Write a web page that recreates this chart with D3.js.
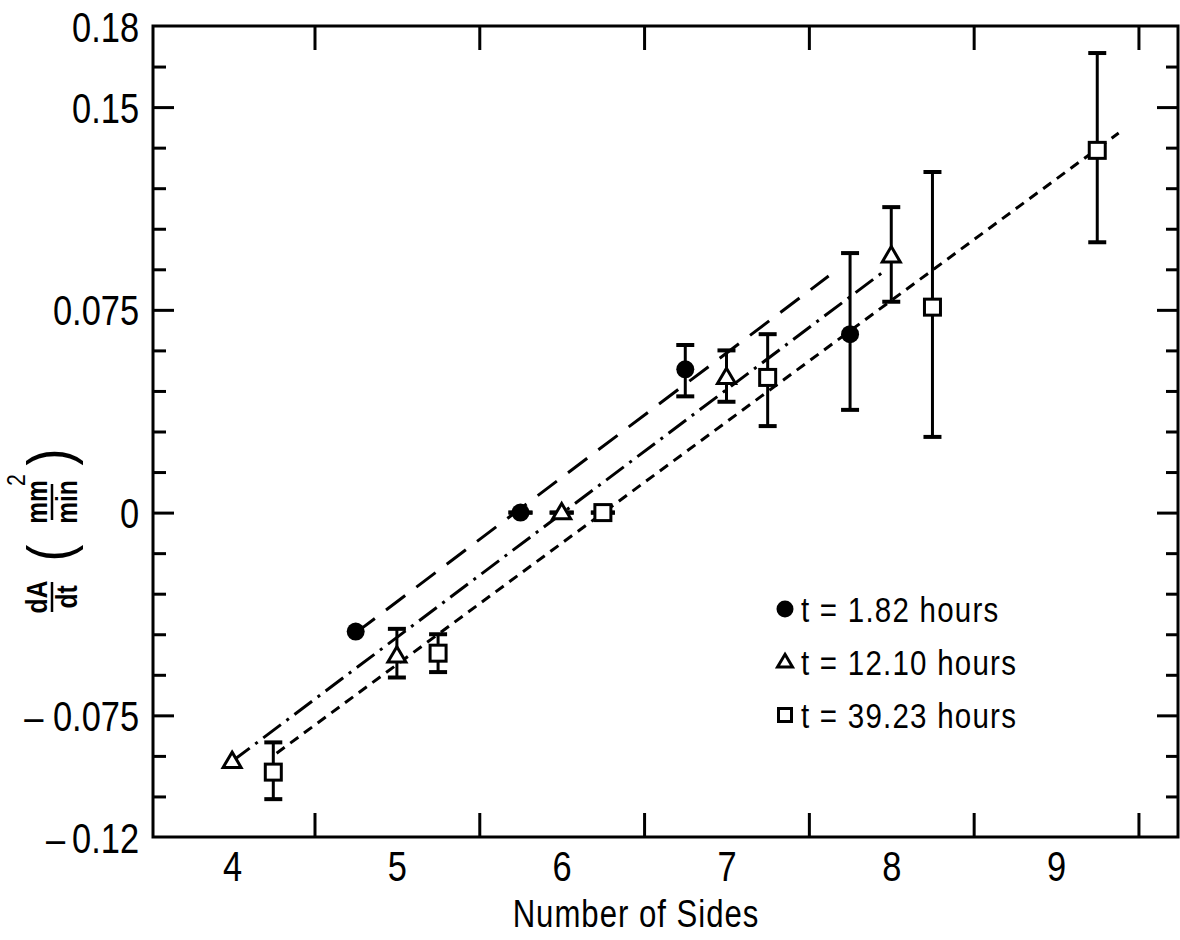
<!DOCTYPE html>
<html>
<head>
<meta charset="utf-8">
<script src="https://cdn.jsdelivr.net/npm/d3@7"></script>
<style>
  body { margin: 0; background: #fff; }
  svg text { font-family: "Liberation Sans", Arial, sans-serif; fill: #000; }
</style>
</head>
<body>
<div class="chart"></div>
<script>
const width = 1180;
const height = 940;
const plotLeft = 153, plotRight = 1178, plotTop = 26, plotBottom = 837;
const squeeze = 0.82; // lettering in the figure is condensed

// series (x already carries the small offset used in the figure)
const seriesNames = ["t = 1.82 hours", "t = 12.10 hours", "t = 39.23 hours"];

const circleX = [4.75, 5.75, 6.75, 7.75];
const circleY = [-0.044, 0, 0.053, 0.066];
const circleLo = [null, 0, 0.043, 0.038];
const circleHi = [null, 0, 0.062, 0.096];

const triangleX = [4, 5, 6, 7, 8];
const triangleY = [-0.092, -0.053, 0, 0.05, 0.095];
const triangleLo = [null, -0.061, 0, 0.041, 0.078];
const triangleHi = [null, -0.043, 0, 0.06, 0.113];

const squareX = [4.25, 5.25, 6.25, 7.25, 8.25, 9.25];
const squareY = [-0.096, -0.052, 0, 0.05, 0.076, 0.134];
const squareLo = [-0.106, -0.059, 0, 0.032, 0.028, 0.1];
const squareHi = [-0.085, -0.045, 0, 0.066, 0.126, 0.17];

// fitted lines, end points
const fitX = [[4.75, 7.62], [4.0, 7.95], [4.27, 9.38]];
const fitY = [[-0.0445, 0.0875], [-0.092, 0.089], [-0.089, 0.1404]];

// ticks
const xLabelTicks = [4, 5, 6, 7, 8, 9];
const xMarkTicks = [4.5, 5.5, 6.5, 7.5, 8.5, 9.5];
const yLabelValues = [-0.12, -0.075, 0, 0.075, 0.15, 0.18];
const yLabelText = ["\u2013\u20090.12", "\u2013 0.075", "0", "0.075", "0.15", "0.18"];
const yMajorTicks = [-0.075, 0, 0.075, 0.15];
const yMinorTicks = [-0.105, -0.09, -0.06, -0.045, -0.03, -0.015, 0.015, 0.03, 0.045, 0.06,
                     0.09, 0.105, 0.12, 0.135, 0.165];

const series = [
  { name: seriesNames[0], shape: "circle", x: circleX, y: circleY, lo: circleLo, hi: circleHi, dash: "24,14" },
  { name: seriesNames[1], shape: "triangle", x: triangleX, y: triangleY, lo: triangleLo, hi: triangleHi, dash: "22,7,3,7" },
  { name: seriesNames[2], shape: "square", x: squareX, y: squareY, lo: squareLo, hi: squareHi, dash: "10,7" }
];

const x = d3.scaleLinear().domain([3.52, 9.74]).range([plotLeft, plotRight]);
const y = d3.scaleLinear().domain([-0.12, 0.18]).range([plotBottom, plotTop]);

const svg = d3.select(".chart")
  .append("svg")
  .attr("width", width)
  .attr("height", height);

function styleAxis(g) {
  g.select(".domain").remove();
  g.selectAll("line").attr("stroke", "#000").attr("stroke-width", 3);
  g.selectAll("text")
    .attr("font-size", 42)
    .attr("font-family", null)
    .attr("transform", `scale(${squeeze},1)`);
}

// condensed text helper
function label(parent, px, py, str, size, anchor) {
  return parent.append("g")
    .attr("transform", `translate(${px},${py}) scale(${squeeze},1)`)
    .append("text")
    .attr("text-anchor", anchor || "start")
    .attr("font-size", size)
    .text(str);
}

// ticks on all four sides, pointing in
svg.append("g").attr("transform", `translate(${plotLeft},0)`)
  .call(d3.axisLeft(y).tickValues(yMajorTicks).tickSize(-21).tickFormat(""))
  .call(styleAxis);
svg.append("g").attr("transform", `translate(${plotLeft},0)`)
  .call(d3.axisLeft(y).tickValues(yMinorTicks).tickSize(-13).tickFormat(""))
  .call(styleAxis);
svg.append("g").attr("transform", `translate(${plotRight},0)`)
  .call(d3.axisRight(y).tickValues(yMajorTicks).tickSize(-21).tickFormat(""))
  .call(styleAxis);
svg.append("g").attr("transform", `translate(${plotRight},0)`)
  .call(d3.axisRight(y).tickValues(yMinorTicks).tickSize(-12).tickFormat(""))
  .call(styleAxis);
svg.append("g").attr("transform", `translate(0,${plotBottom})`)
  .call(d3.axisBottom(x).tickValues(xMarkTicks).tickSize(-24).tickFormat(""))
  .call(styleAxis);
svg.append("g").attr("transform", `translate(0,${plotTop})`)
  .call(d3.axisTop(x).tickValues(xMarkTicks).tickSize(-24).tickFormat(""))
  .call(styleAxis);

// tick labels
svg.append("g").attr("transform", `translate(${plotLeft},0)`)
  .call(d3.axisLeft(y).tickValues(yLabelValues).tickSize(0).tickPadding(17)
    .tickFormat((d, i) => yLabelText[i]))
  .call(styleAxis)
  .selectAll("text").attr("dy", "0.36em");
svg.append("g").attr("transform", `translate(0,${plotBottom})`)
  .call(d3.axisBottom(x).tickValues(xLabelTicks).tickSize(0).tickPadding(14)
    .tickFormat(d3.format("d")))
  .call(styleAxis);

// frame
svg.append("rect")
  .attr("x", plotLeft).attr("y", plotTop)
  .attr("width", plotRight - plotLeft).attr("height", plotBottom - plotTop)
  .attr("fill", "none").attr("stroke", "#000").attr("stroke-width", 3);

// axis titles
label(svg, 636, 927, "Number of Sides", 38, "middle").attr("letter-spacing", 1.2);

const yTitle = svg.append("g").attr("transform", "translate(52,0) rotate(-90)");
label(yTitle, -597, -5, "dA", 30, "middle").attr("font-weight", "bold");
yTitle.append("line").attr("x1", -612).attr("x2", -582).attr("y1", 0).attr("y2", 0)
  .attr("stroke", "#000").attr("stroke-width", 2.5);
label(yTitle, -597, 25, "dt", 30, "middle").attr("font-weight", "bold");
label(yTitle, -553, 18, "(", 62, "middle");
label(yTitle, -502, -5, "mm", 30, "middle").attr("font-weight", "bold");
label(yTitle, -480, -27, "2", 26, "middle");
yTitle.append("line").attr("x1", -520).attr("x2", -484).attr("y1", 0).attr("y2", 0)
  .attr("stroke", "#000").attr("stroke-width", 2.5);
label(yTitle, -502, 25, "min", 30, "middle").attr("font-weight", "bold");
label(yTitle, -457, 18, ")", 62, "middle");

// fitted lines
const line = d3.line().x(d => x(d[0])).y(d => y(d[1]));
series.forEach((s, i) => {
  svg.append("path")
    .datum(d3.zip(fitX[i], fitY[i]))
    .attr("d", line)
    .attr("fill", "none")
    .attr("stroke", "#000")
    .attr("stroke-width", 3)
    .attr("stroke-dasharray", s.dash);
});

// error bars
const capW = 9;
series.forEach(s => {
  const bars = s.x.map((v, i) => ({ x: v, lo: s.lo[i], hi: s.hi[i] })).filter(d => d.lo !== null);
  const g = svg.append("g").attr("stroke", "#000").attr("stroke-width", 3);
  g.selectAll(".stem").data(bars).enter().append("line")
    .attr("x1", d => x(d.x)).attr("x2", d => x(d.x))
    .attr("y1", d => y(d.lo)).attr("y2", d => y(d.hi));
  g.selectAll(".cap").data(bars.flatMap(d => {
      const w = d.lo === d.hi ? 12 : capW;
      return [{ x: d.x, v: d.lo, w }, { x: d.x, v: d.hi, w }];
    })).enter().append("line")
    .attr("x1", d => x(d.x) - d.w).attr("x2", d => x(d.x) + d.w)
    .attr("y1", d => y(d.v)).attr("y2", d => y(d.v))
    .attr("stroke-width", 4);
});

// markers
function drawMarker(g, shape, size) {
  if (shape === "circle") {
    g.append("circle").attr("r", size / 2).attr("fill", "#000");
  } else if (shape === "triangle") {
    const h = size * 0.85;
    g.append("path")
      .attr("d", `M0,${-h * 0.6}L${size / 2},${h * 0.4}L${-size / 2},${h * 0.4}Z`)
      .attr("fill", "#fff").attr("stroke", "#000").attr("stroke-width", 3)
      .attr("stroke-linejoin", "miter");
  } else {
    g.append("rect")
      .attr("x", -size / 2 + 1).attr("y", -size / 2 + 1)
      .attr("width", size - 2).attr("height", size - 2)
      .attr("fill", "#fff").attr("stroke", "#000").attr("stroke-width", 3);
  }
}

series.forEach(s => {
  s.x.forEach((v, i) => {
    const g = svg.append("g").attr("transform", `translate(${x(v)},${y(s.y[i])})`);
    drawMarker(g, s.shape, 18);
  });
});

// legend
const legend = svg.append("g").attr("id", "legend");
series.forEach((s, i) => {
  const row = legend.append("g").attr("transform", `translate(785, ${609 + i * 53})`);
  drawMarker(row.append("g"), s.shape, s.shape === "circle" ? 17 : 15);
  label(row, 16, 13, s.name, 36).attr("letter-spacing", 1.5);
});
</script>
</body>
</html>
